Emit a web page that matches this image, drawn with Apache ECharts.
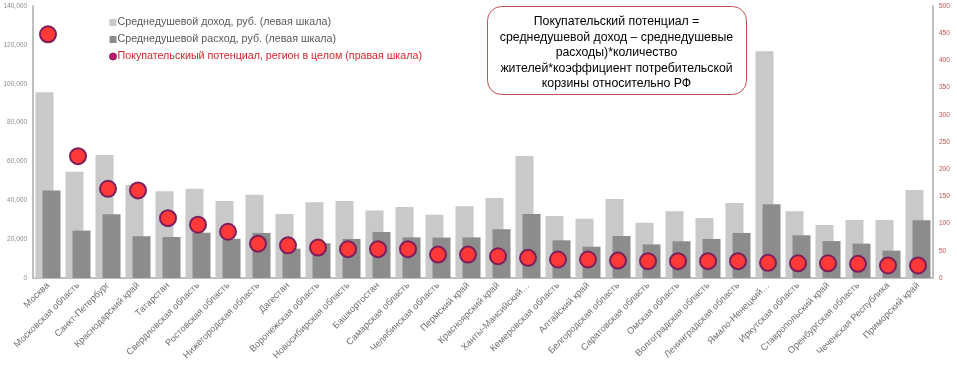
<!DOCTYPE html>
<html><head><meta charset="utf-8">
<script src="https://cdn.jsdelivr.net/npm/echarts@6/dist/echarts.min.js"></script>
<style>html,body{margin:0;padding:0;background:#fff}#c{width:957px;height:370px}</style>
</head><body><div id="c"></div>
<script>
const categories = ['Москва','Московская область','Санкт-Петербург','Краснодарский край','Татарстан','Свердловская область','Ростовская область','Нижегородская область','Дагестан','Воронежская область','Новосибирская область','Башкортостан','Самарская область','Челябинская область','Пермский край','Красноярский край','Ханты-Мансийский…','Кемеровская область','Алтайский край','Белгородская область','Саратовская область','Омская область','Волгоградская область','Ленинградская область','Ямало-Ненецкий…','Иркутская область','Ставропольский край','Оренбургская область','Чеченская Республика','Приморский край'];
const income = [95600,54700,63300,47900,44600,46000,39600,42900,32900,39000,39600,34800,36500,32600,36900,41200,62800,31900,30500,40700,28500,34300,30900,38600,116700,34300,27300,29900,29900,45300];
const expense = [45000,24400,32800,21500,21100,23300,20200,23200,15100,17900,20100,23700,20900,20800,20900,25100,32900,19400,16100,21600,17300,18900,20100,23200,37900,22000,19000,17700,14100,29700];
const potential = [448,224,164,161,110,98,85,63,60,56,53,53,53,43,43,40,37,34,34,32,31,31,31,31,28,27,27,26,23,23];
const leftTicks = [0,20000,40000,60000,80000,100000,120000,140000];
const rightTicks = [0,50,100,150,200,250,300,350,400,450,500];
const seriesNames = ['Среднедушевой доход, руб. (левая шкала)','Среднедушевой расход, руб. (левая шкала)','Покупательскиый потенциал, регион в целом (правая шкала)'];

const chart = echarts.init(document.getElementById('c'));
chart.setOption({
  animation:false,
  textStyle:{fontFamily:'Liberation Sans, Arial, sans-serif'},
  grid:{left:33,right:24,top:6,bottom:92},
  legend:{
    orient:'vertical', left:104, top:12, itemGap:6, itemWidth:7, itemHeight:7,
    textStyle:{fontSize:10.7,color:'#595959',padding:[0,0,0,-4]},
    data:[
      {name:seriesNames[0],icon:'rect'},
      {name:seriesNames[1],icon:'rect'},
      {name:seriesNames[2],icon:'circle',textStyle:{color:'#d2262e'},itemStyle:{color:'#c2186b',borderColor:'#7a1f5c',borderWidth:1}}
    ]
  },
  xAxis:{
    type:'category', data:categories,
    axisLine:{lineStyle:{color:'#bfbfbf',width:2}},
    axisTick:{show:false},
    axisLabel:{rotate:45,fontSize:9.3,color:'#707070',interval:0,margin:6}
  },
  yAxis:[
    {type:'value',min:0,max:140000,interval:20000,
     axisLine:{show:true,lineStyle:{color:'#bfbfbf',width:2}},
     axisTick:{show:false},splitLine:{show:false},
     axisLabel:{fontSize:6.5,color:'#8c8c8c',margin:6}},
    {type:'value',min:0,max:500,interval:50,position:'right',
     axisLine:{show:true,lineStyle:{color:'#bfbfbf',width:2}},
     axisTick:{show:false},splitLine:{show:false},
     axisLabel:{fontSize:6.5,color:'#c0504d',margin:6}}
  ],
  series:[
    {name:seriesNames[0],type:'bar',data:income,barWidth:18,barGap:'-61%',itemStyle:{color:'#c9c9c9'}},
    {name:seriesNames[1],type:'bar',data:expense,barWidth:18,itemStyle:{color:'#8c8c8c'}},
    {name:seriesNames[2],type:'scatter',yAxisIndex:1,data:potential,symbolSize:16,z:5,
     itemStyle:{color:'#ff3838',borderColor:'#7a1f5c',borderWidth:2,opacity:1}}
  ],
  graphic:[
    {type:'rect',left:487,top:6,shape:{width:259,height:88,r:14},
     style:{fill:'#fff',stroke:'#c0504d',lineWidth:1},z:10},
    {type:'text',x:616.5,y:53,z:11,
     style:{
       text:'{r|Покупательский потенциал} {b|=}\n{b|среднедушевой доход – среднедушевые}\n{b|расходы)*количество}\n{b|жителей*коэффициент потребительской}\n{b|корзины относительно РФ}',
       align:'center',verticalAlign:'middle',
       rich:{r:{fontSize:12.3,color:'#d2262e',lineHeight:15.5,fontFamily:'Liberation Sans'},
             b:{fontSize:12.3,color:'#1a1a1a',lineHeight:15.5,fontFamily:'Liberation Sans'}}
     }}
  ]
});
</script></body></html>
